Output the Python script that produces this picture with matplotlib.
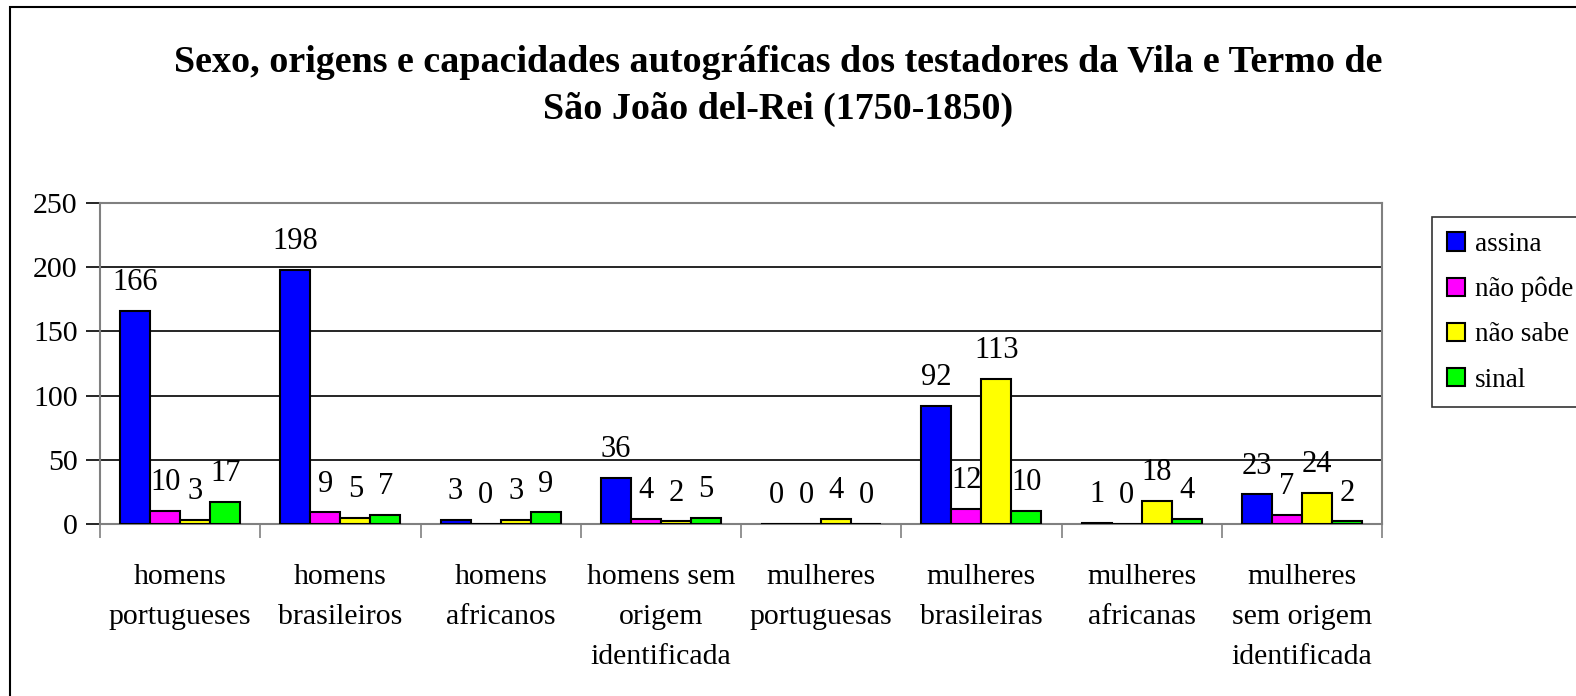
import matplotlib.pyplot as plt
import matplotlib.patches as patches
import numpy as np

categories = ["homens\nportugueses", "homens\nbrasileiros", "homens\nafricanos",
              "homens sem\norigem\nidentificada", "mulheres\nportuguesas",
              "mulheres\nbrasileiras", "mulheres\nafricanas",
              "mulheres\nsem origem\nidentificada"]
series_names = ["assina", "não pôde", "não sabe", "sinal"]
assina = [166, 198, 3, 36, 0, 92, 1, 23]
nao_pode = [10, 9, 0, 4, 0, 12, 0, 7]
nao_sabe = [3, 5, 3, 2, 4, 113, 18, 24]
sinal = [17, 7, 9, 5, 0, 10, 4, 2]
colors = ["#0000FF", "#FF00FF", "#FFFF00", "#00FF00"]

plt.rcParams['font.family'] = ['Liberation Serif', 'DejaVu Serif']

W, H = 1576, 696
fig = plt.figure(figsize=(W / 100, H / 100), dpi=100)

# outer chart border
fig.add_artist(patches.Rectangle((10 / W, -1), 2, 1 - 7 / H + 1, transform=fig.transFigure,
                                 fill=False, edgecolor='black', linewidth=1.5, clip_on=False))

ax = fig.add_axes([100 / W, 1 - 524 / H, 1282 / W, 321 / H])

x = np.arange(len(categories))
bw = 0.1875
all_series = [assina, nao_pode, nao_sabe, sinal]
for i, (vals, name, c) in enumerate(zip(all_series, series_names, colors)):
    pos = x + (i - 1.5) * bw
    ax.bar(pos, vals, width=bw, color=c, edgecolor='black', linewidth=1.5,
           label=name, zorder=3)
    for xp, v in zip(pos, vals):
        ax.annotate(str(v), (xp, v), xytext=(0, 15), textcoords='offset points',
                    ha='center', va='baseline', fontsize=22, zorder=4)

ax.set_xlim(-0.5, len(categories) - 0.5)
ax.set_ylim(0, 250)
ax.set_yticks(range(0, 251, 50))
ax.yaxis.grid(True, color='black', linewidth=1.2, zorder=0)
ax.set_axisbelow(True)

ax.set_xticks(np.arange(-0.5, len(categories), 1))
ax.set_xticklabels([])
ax.set_xticks(x, minor=True)
ax.set_xticklabels(categories, minor=True, fontsize=21.5, linespacing=1.7, va='top')
ax.tick_params(axis='x', which='major', length=10, width=1.2, color='#808080', direction='out')
ax.tick_params(axis='x', which='minor', length=0, pad=29)
ax.tick_params(axis='y', length=10, width=1.2, color='black', labelsize=21.5, pad=6)

for s in ax.spines.values():
    s.set_color('#808080')
    s.set_linewidth(1.5)

fig.text(778 / W, 1 - 86 / H,
         "Sexo, origens e capacidades autográficas dos testadores da Vila e Termo de\n"
         "São João del-Rei (1750-1850)",
         ha='center', va='center', fontsize=27.4, fontweight='bold', linespacing=1.45)

leg = fig.legend(loc='upper left', bbox_to_anchor=(1432 / W, 1 - 217 / H),
                 fontsize=19.5, frameon=True, fancybox=False, edgecolor='black',
                 handlelength=0.68, handleheight=0.68, handletextpad=0.35,
                 labelspacing=0.74, borderpad=0.55, borderaxespad=0)
leg.get_frame().set_linewidth(1.2)

fig.savefig("out.png", dpi=100)
